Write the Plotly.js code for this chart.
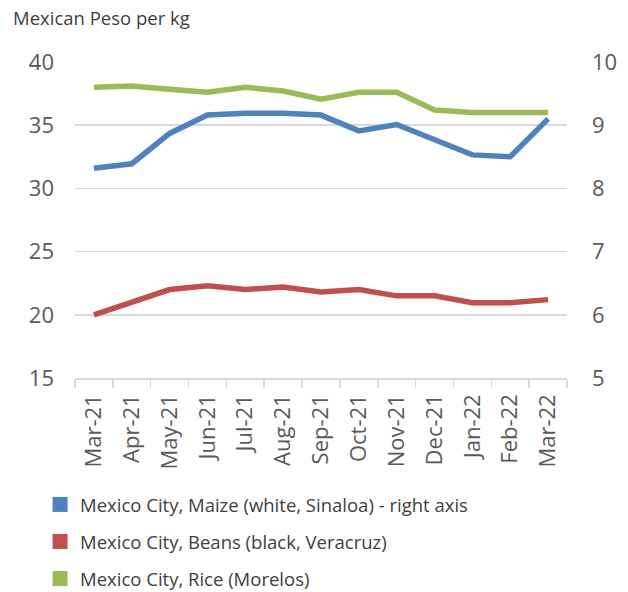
<!DOCTYPE html>
<html>
<head>
<meta charset="utf-8">
<script src="https://cdn.plot.ly/plotly-3.0.1.min.js"></script>
<style>html,body{margin:0;padding:0;background:#fff;}#chart{width:628px;height:592px;}</style>
</head>
<body>
<div id="chart"></div>
<script>
const months = ["Mar-21","Apr-21","May-21","Jun-21","Jul-21","Aug-21","Sep-21","Oct-21","Nov-21","Dec-21","Jan-22","Feb-22","Mar-22"];
const maize = [8.32,8.39,8.87,9.16,9.19,9.19,9.16,8.91,9.01,8.78,8.53,8.50,9.10];
const beans = [20.0,21.0,22.0,22.3,22.0,22.2,21.8,22.0,21.5,21.5,20.95,20.95,21.2];
const rice = [38.0,38.1,37.85,37.6,38.0,37.7,37.05,37.6,37.6,36.2,36.0,36.0,36.0];
const names = ["Mexico City, Maize (white, Sinaloa) - right axis","Mexico City, Beans (black, Veracruz)","Mexico City, Rice (Morelos)"];
const colors = ["#4F81BD","#C0504D","#9BBB59"];

const FONT = "Open Sans, sans-serif";
const traces = [
  {x: months, y: maize, yaxis: "y2", mode: "lines", line: {color: colors[0], width: 5.5}, showlegend: false, hoverinfo: "skip"},
  {x: months, y: beans, mode: "lines", line: {color: colors[1], width: 5.5}, showlegend: false, hoverinfo: "skip"},
  {x: months, y: rice, mode: "lines", line: {color: colors[2], width: 5.5}, showlegend: false, hoverinfo: "skip"}
];
names.forEach((n, i) => {
  traces.push({x: [null], y: [null], mode: "markers", name: n, legendgroup: "g" + i,
    marker: {symbol: "square", size: 15, color: colors[i]}, showlegend: true});
});

const layout = {
  width: 628, height: 592,
  margin: {l: 75, r: 61, t: 62, b: 214, autoexpand: false},
  paper_bgcolor: "#fff", plot_bgcolor: "#fff",
  font: {family: FONT, color: "#595959"},
  title: {text: "Mexican Peso per kg", x: 13/628, xanchor: "left", xref: "container",
    y: 1 - 12/592, yanchor: "top", yref: "container", font: {family: FONT, size: 18.5, color: "#404040"}},
  xaxis: {type: "category", range: [-0.5, 12.5], tickson: "boundaries", ticks: "outside", ticklen: 8,
    tickcolor: "#d9d9d9", tickwidth: 1.5, showline: true, linecolor: "#d9d9d9", linewidth: 1.5,
    showgrid: false, tickangle: -90, tickfont: {size: 22, color: "#595959"}, ticklabelstandoff: 6,
    automargin: false, fixedrange: true},
  yaxis: {range: [15, 40], dtick: 5, showgrid: true, gridcolor: "#d9d9d9", gridwidth: 1.5, zeroline: false,
    showline: false, tickfont: {size: 22, color: "#595959"}, ticklabelstandoff: 20, automargin: false, fixedrange: true},
  yaxis2: {range: [5, 10], dtick: 1, overlaying: "y", side: "right", showgrid: false, zeroline: false,
    showline: false, tickfont: {size: 22, color: "#595959"}, ticklabelstandoff: 24, automargin: false, fixedrange: true},
  legend: {x: -0.071, xanchor: "left", y: -0.3415, yanchor: "top", orientation: "v",
    font: {family: FONT, size: 18.5, color: "#404040"}, tracegroupgap: 10, bgcolor: "rgba(0,0,0,0)"},
  showlegend: true
};
Plotly.newPlot("chart", traces, layout, {staticPlot: true, displayModeBar: false});
</script>
</body>
</html>
